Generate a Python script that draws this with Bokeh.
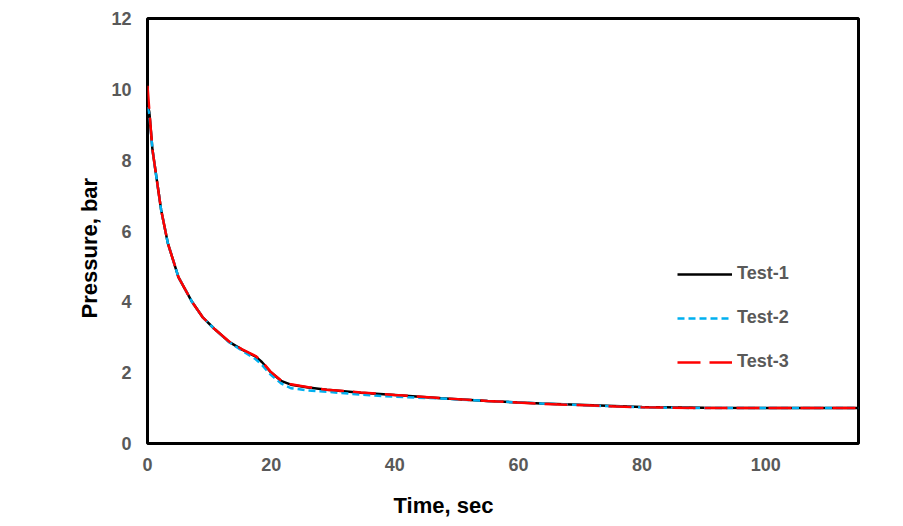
from bokeh.plotting import figure
from bokeh.models import Range1d, Legend, LegendItem, Title
from bokeh.embed import file_html
from bokeh.resources import INLINE

# ---- data ----
t1 = [0, 0.3, 0.8, 1.5, 2.2, 3.3, 5.0, 7.2, 8.9, 10.8, 13.2, 15.3, 17.5, 18.5,
      19.9, 21.6, 23.2, 26, 29, 34.5, 40, 47.5, 55, 63.7, 72, 80, 90, 100, 115]
p1 = [9.6, 9.35, 8.3, 7.45, 6.6, 5.65, 4.7, 4.0, 3.57, 3.24, 2.87, 2.65, 2.45, 2.3,
      2.02, 1.77, 1.66, 1.58, 1.52, 1.43, 1.37, 1.28, 1.2, 1.13, 1.08, 1.03, 1.01, 1.0, 1.0]

t2 = [0, 0.3, 0.8, 1.5, 2.2, 3.3, 5.0, 7.2, 8.9, 10.8, 13.2, 15.3, 17.5, 18.5,
      19.9, 21.6, 23.2, 26, 29, 34.5, 40, 47.5, 55, 63.7, 72, 80, 90, 100, 115]
p2 = [9.5, 9.3, 8.3, 7.45, 6.6, 5.65, 4.7, 4.0, 3.57, 3.24, 2.86, 2.62, 2.38, 2.22,
      1.95, 1.70, 1.56, 1.50, 1.46, 1.38, 1.32, 1.27, 1.2, 1.13, 1.07, 1.02, 1.0, 1.0, 1.0]

t3 = [0, 0.3, 0.8, 1.5, 2.2, 3.3, 5.0, 7.2, 8.9, 10.8, 13.2, 15.3, 17.5, 18.5,
      19.9, 21.6, 23.2, 26, 29, 34.5, 40, 47.5, 55, 63.7, 72, 80, 90, 100, 115]
p3 = [10.1, 9.4, 8.3, 7.45, 6.6, 5.65, 4.7, 4.0, 3.57, 3.24, 2.88, 2.66, 2.47, 2.32,
      2.03, 1.78, 1.67, 1.59, 1.52, 1.44, 1.37, 1.28, 1.2, 1.12, 1.07, 1.02, 1.0, 1.0, 1.0]

x_ticks = [0, 20, 40, 60, 80, 100]
y_ticks = [0, 2, 4, 6, 8, 10, 12]
series_names = ["Test-1", "Test-2", "Test-3"]
x_title = "Time, sec"
y_title = "Pressure, bar"

FONT = "Liberation Sans"
GRAY = "#595959"

p = figure(width=903, height=526, output_backend="svg", toolbar_location=None,
           x_range=Range1d(0, 115), y_range=Range1d(0, 12),
           min_border_left=147, min_border_right=45, min_border_top=18,
           min_border_bottom=83)

p.xgrid.visible = False
p.ygrid.visible = False
p.outline_line_color = "black"
p.outline_line_width = 3
p.outline_line_alpha = 1.0

for ax in (p.xaxis[0], p.yaxis[0]):
    ax.axis_line_color = None
    ax.major_tick_line_color = None
    ax.minor_tick_line_color = None
    ax.major_label_text_font = FONT
    ax.major_label_text_font_style = "bold"
    ax.major_label_text_font_size = "18px"
    ax.major_label_text_color = GRAY

p.xaxis.ticker = x_ticks
p.yaxis.ticker = y_ticks
p.xaxis.major_label_standoff = 8
p.yaxis.major_label_standoff = 10

r1 = p.line(t1, p1, line_color="black", line_width=2.5)
r2 = p.line(t2, p2, line_color="#00B0F0", line_width=2.5, line_dash="7 4")
r3 = p.line(t3, p3, line_color="#FF0000", line_width=2.5, line_dash="23 9")

legend = Legend(items=[LegendItem(label=series_names[0], renderers=[r1]),
                       LegendItem(label=series_names[1], renderers=[r2]),
                       LegendItem(label=series_names[2], renderers=[r3])],
                location=(530, 71))
legend.border_line_color = None
legend.background_fill_alpha = 0
legend.padding = 0
legend.margin = 0
legend.spacing = 23
legend.glyph_width = 55
legend.glyph_height = 20
legend.label_height = 20
legend.label_standoff = 5
legend.label_text_font = FONT
legend.label_text_font_style = "bold"
legend.label_text_font_size = "18px"
legend.label_text_color = GRAY
p.add_layout(legend, "center")

spacer = Title(text=" ", standoff=0, text_font_size="9px")
xt = Title(text=x_title, align="left", offset=246,
           text_font=FONT, text_font_style="bold", text_font_size="22px",
           text_color="black")
yt = Title(text=y_title, align="left", offset=125, standoff=14,
           text_font=FONT, text_font_style="bold", text_font_size="22px",
           text_color="black")
p.add_layout(spacer, "below")
p.add_layout(xt, "below")
p.add_layout(yt, "left")

open("out.html", "w").write(file_html(p, INLINE))
